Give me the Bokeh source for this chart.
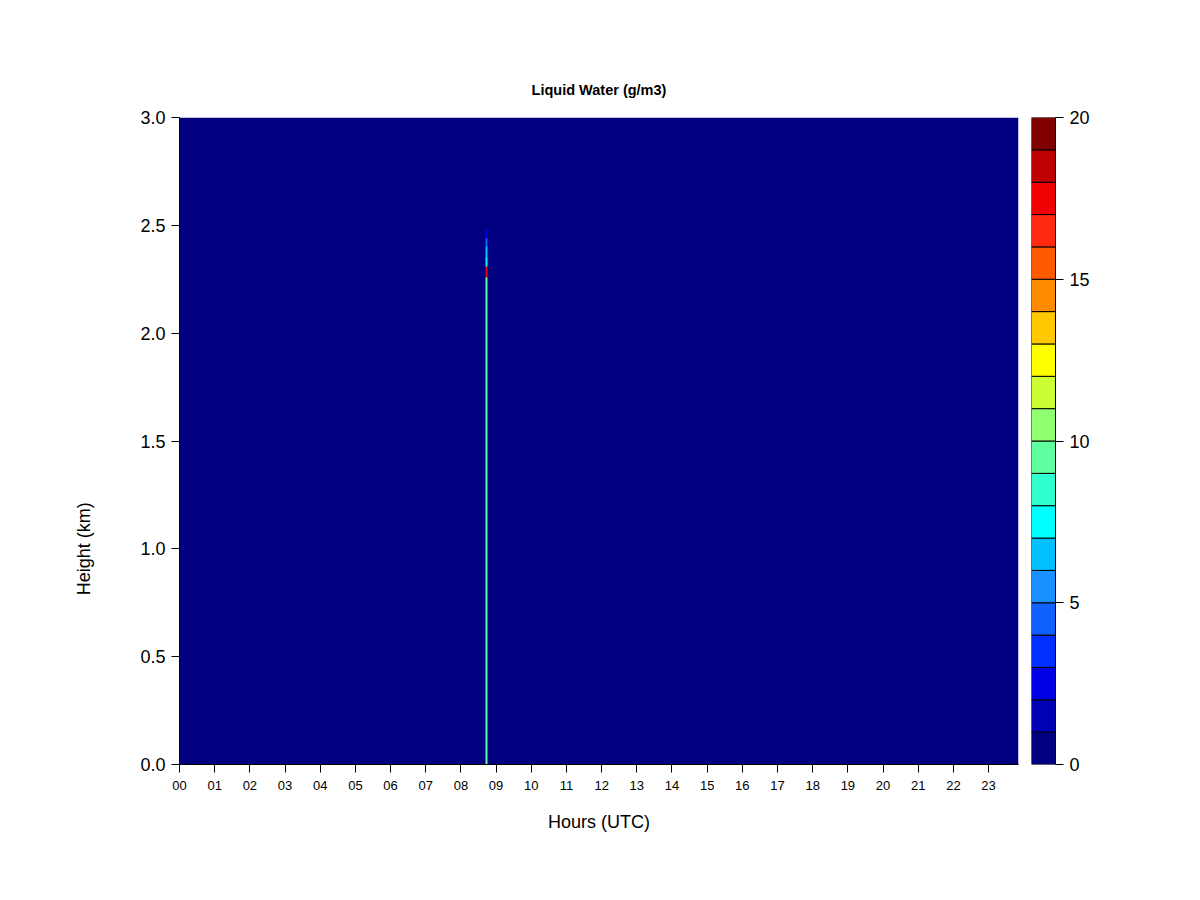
import numpy as np
from bokeh.plotting import figure
from bokeh.models import (Range1d, FixedTicker, Label, LinearColorMapper,
                          NumeralTickFormatter)
from bokeh.layouts import row
from bokeh.embed import file_html
from bokeh.resources import INLINE

# ---------------- data ----------------
hour_ticks = list(range(24))
hour_labels = [f"{h:02d}" for h in hour_ticks]
height_ticks = [0.0, 0.5, 1.0, 1.5, 2.0, 2.5, 3.0]
cbar_ticks = [0, 5, 10, 15, 20]
levels = list(range(21))
palette = ["#000080", "#0000B4", "#0000E6", "#0030FF", "#1060FF",
           "#1890FF", "#00C0FF", "#00FFFF", "#30FFD0", "#60FFA0",
           "#90FF70", "#CCFF33", "#FFFF00", "#FFC800", "#FF8C00",
           "#FF5A00", "#FF2A10", "#F00000", "#BE0000", "#800000"]

time_step_h = 0.05
time_end_h = 23.85
height_step_km = 0.01
height_top_km = 3.0

spike_hour = 8.70
profile_bounds_km = [0.0, 2.26, 2.31, 2.35, 2.40, 2.44, 2.48]
profile_values = [9.5, 17.5, 7.5, 6.5, 4.0, 2.5]

# ---------------- grid ----------------
n_t = int(round(time_end_h / time_step_h))
n_h = int(round(height_top_km / height_step_km))
heights = np.arange(n_h) * height_step_km + height_step_km / 2
field = np.zeros((n_h, n_t))
col = int(round(spike_hour / time_step_h))
for lo, hi, v in zip(profile_bounds_km[:-1], profile_bounds_km[1:], profile_values):
    mask = (heights >= lo) & (heights < hi)
    field[mask, col] = v

mapper = LinearColorMapper(palette=palette, low=levels[0], high=levels[-1])

FONT = "Liberation Sans"
LEFT_W = 120

y_range = Range1d(0, n_h * height_step_km)

p = figure(frame_width=839, frame_height=647,
           min_border_left=179 - LEFT_W, min_border_right=13,
           min_border_top=117, min_border_bottom=136,
           x_range=Range1d(0, n_t * time_step_h),
           y_range=y_range,
           toolbar_location=None, output_backend="svg",
           title="Liquid Water (g/m3)")
p.image(image=[field], x=0, y=0, dw=n_t * time_step_h, dh=n_h * height_step_km,
        color_mapper=mapper)

p.title.align = "center"
p.title.text_font = FONT
p.title.text_font_size = "14.5px"
p.title.text_font_style = "bold"
p.title.text_color = "black"
p.title.standoff = 40

p.outline_line_color = None
p.grid.visible = False
p.background_fill_color = "white"
p.border_fill_color = "white"

for ax in (p.xaxis[0], p.yaxis[0]):
    ax.major_tick_in = 0
    ax.major_tick_out = 8
    ax.minor_tick_line_color = None
    ax.axis_line_color = "black"
    ax.major_tick_line_color = "black"
    ax.major_label_text_color = "black"
    ax.major_label_text_font = FONT

p.xaxis.ticker = FixedTicker(ticks=hour_ticks)
p.xaxis.major_label_overrides = {h: lab for h, lab in zip(hour_ticks, hour_labels)}
p.xaxis.major_label_text_font_size = "13px"
p.xaxis.major_label_standoff = 8
p.xaxis.axis_label = "Hours (UTC)"
p.xaxis.axis_label_text_font = FONT
p.xaxis.axis_label_text_font_size = "18px"
p.xaxis.axis_label_text_font_style = "normal"
p.xaxis.axis_label_text_color = "black"
p.xaxis.axis_label_standoff = 19

p.yaxis.ticker = FixedTicker(ticks=height_ticks)
p.yaxis.formatter = NumeralTickFormatter(format="0.0")
p.yaxis.major_label_text_font_size = "18px"
p.yaxis.major_label_standoff = 6

# ---------------- y-axis title strip ----------------
lf = figure(frame_width=LEFT_W, frame_height=647,
            min_border_left=0, min_border_right=0,
            min_border_top=117, min_border_bottom=136,
            x_range=Range1d(0, LEFT_W), y_range=y_range,
            toolbar_location=None, output_backend="svg",
            x_axis_location=None, y_axis_location=None)
lf.outline_line_color = None
lf.grid.visible = False
lf.add_layout(Label(x=83, y=1.0, text="Height (km)", angle=np.pi / 2,
                    text_align="center", text_baseline="middle",
                    text_font=FONT, text_font_size="18px", text_color="black"))

# ---------------- colour bar ----------------
cb = figure(frame_width=24, frame_height=647,
            min_border_left=0, min_border_right=80,
            min_border_top=117, min_border_bottom=136,
            x_range=Range1d(0, 1), y_range=Range1d(levels[0], levels[-1]),
            toolbar_location=None, output_backend="svg",
            x_axis_location=None, y_axis_location="right")
cb.quad(left=0, right=1, bottom=levels[:-1], top=levels[1:],
        fill_color=palette, line_color="black", line_width=1)
cb.outline_line_color = None
cb.grid.visible = False
cb.yaxis.ticker = FixedTicker(ticks=cbar_ticks)
cb.yaxis.major_tick_in = 0
cb.yaxis.major_tick_out = 8
cb.yaxis.minor_tick_line_color = None
cb.yaxis.axis_line_color = "black"
cb.yaxis.major_label_text_font = FONT
cb.yaxis.major_label_text_font_size = "18px"
cb.yaxis.major_label_text_color = "black"
cb.yaxis.major_label_standoff = 6

layout = row(lf, p, cb)
open("out.html", "w").write(file_html(layout, INLINE))
